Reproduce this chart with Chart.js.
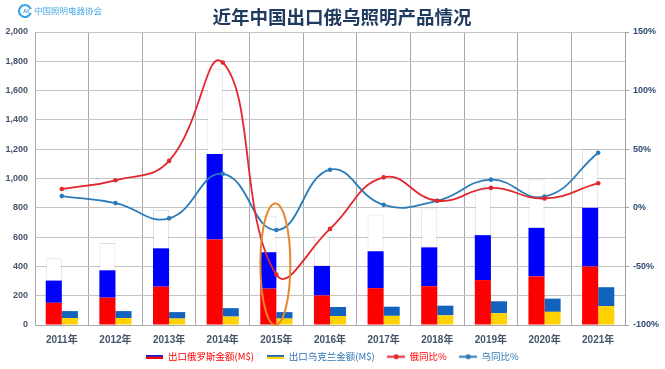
<!DOCTYPE html>
<html><head><meta charset="utf-8">
<script src="https://cdn.jsdelivr.net/npm/chart.js@4.4.0/dist/chart.umd.min.js"></script>
<style>html,body{margin:0;padding:0;background:#fff;overflow:hidden}#wrap{width:665px;height:369px}</style>
</head><body><div id="wrap"><canvas id="c" width="665" height="369"></canvas></div>
<script>
// ---- data ----
const categories = ['2011年','2012年','2013年','2014年','2015年','2016年','2017年','2018年','2019年','2020年','2021年'];
const russiaExport = [455, 560, 785, 1750, 745, 605, 755, 795, 920, 995, 1200];   // 出口俄罗斯金额 (M$)
const ukraineExport = [95, 95, 88, 115, 88, 123, 125, 132, 162, 180, 258];        // 出口乌克兰金额 (M$)
const russiaYoY = [16, 23.5, 40, 124, -57, -18, 26, 6, 17, 8, 21];                 // 俄同比 %
const ukraineYoY = [10, 4, -9, 29, -19, 32.5, 2.5, 6, 24, 9.5, 47];                // 乌同比 %
const leftAxis = {min: 0, max: 2000, step: 200};
const rightAxis = {min: -100, max: 150, step: 50};
const highlight = {category: '2015年', low: 0, high: 830};
const titleText = '近年中国出口俄乌照明产品情况';
const logoText = '中国照明电器协会';
const legendTexts = ['出口俄罗斯金额(M$)', '出口乌克兰金额(M$)', '俄同比%', '乌同比%'];

// ---- colours ----
const RED = '#ff0000', BLUE = '#0000ff', UA_BLUE = '#1262bf', UA_YEL = '#ffd200';
const LINE_RED = '#e3272e', LINE_BLUE = '#2b7bb9';
const FONT = "'Liberation Sans', Arial, 'Noto Sans CJK SC', sans-serif";
const CJK = "'Noto Sans CJK SC', 'Liberation Sans', sans-serif";

// stacked flag pieces built from the values
const third = a => a.map(v => v / 3);
const half = a => a.map(v => v / 2);

function swatch(w, h, draw) {
  const c = document.createElement('canvas'); c.width = w; c.height = h;
  draw(c.getContext('2d')); return c;
}
const swRu = swatch(17, 4, g => { g.fillStyle = '#2020d0'; g.fillRect(0,0,17,2); g.fillStyle = RED; g.fillRect(0,2,17,2); });
const swUa = swatch(17, 4, g => { g.fillStyle = UA_BLUE; g.fillRect(0,0,17,2); g.fillStyle = UA_YEL; g.fillRect(0,2,17,2); });
const swLine = col => swatch(18, 7, g => {
  g.strokeStyle = col; g.lineWidth = 2; g.beginPath(); g.moveTo(0,3.5); g.lineTo(18,3.5); g.stroke();
  g.fillStyle = col; g.beginPath(); g.arc(9,3.5,2.5,0,Math.PI*2); g.fill();
});
const swRuLine = swLine(LINE_RED), swUaLine = swLine(LINE_BLUE);

const ellipsePlugin = {
  id: 'ellipse',
  afterDatasetsDraw(chart) {
    const x = chart.scales.x.getPixelForValue(categories.indexOf(highlight.category));
    const y1 = chart.scales.y.getPixelForValue(highlight.high);
    const y0 = chart.scales.y.getPixelForValue(highlight.low);
    const g = chart.ctx; g.save();
    g.strokeStyle = '#e8862c'; g.lineWidth = 2;
    g.beginPath(); g.ellipse(x - 1, (y0 + y1) / 2, 15, (y0 - y1) / 2, 0, 0, Math.PI * 2); g.stroke();
    g.restore();
  }
};
const headerPlugin = {
  id: 'header',
  afterLayout(chart) {
    // nudge legend row up a little so it sits just below the year labels
    if (chart.legend) { chart.legend.top -= 6; chart.legend.bottom -= 6; }
  },
  afterDraw(chart) {
    const g = chart.ctx; g.save();
    // title
    g.fillStyle = '#1f3a5f'; g.font = "bold 18.5px " + CJK; g.textAlign = 'center'; g.textBaseline = 'middle';
    g.fillText(titleText, 342, 17);
    // logo
    g.strokeStyle = '#3aa3e3'; g.lineWidth = 2.2;
    g.beginPath(); g.arc(25, 11, 6, 0.3, Math.PI * 1.9); g.stroke();
    g.fillStyle = '#3aa3e3'; g.font = "bold 6px " + FONT;
    g.fillText('AI', 26, 11.5);
    g.font = "8.5px " + CJK; g.textAlign = 'left'; g.fillStyle = '#45a8e6';
    g.fillText(logoText, 34, 11);
    g.restore();
  }
};

new Chart(document.getElementById('c'), {
  type: 'bar',
  data: {
    labels: categories,
    datasets: [
      {type: 'line', label: legendTexts[2], data: russiaYoY, yAxisID: 'y1', borderColor: LINE_RED, backgroundColor: LINE_RED,
       borderWidth: 1.8, pointRadius: 2.3, pointBackgroundColor: LINE_RED, pointBorderWidth: 0, tension: 0.45, order: 0},
      {type: 'line', label: legendTexts[3], data: ukraineYoY, yAxisID: 'y1', borderColor: LINE_BLUE, backgroundColor: LINE_BLUE,
       borderWidth: 1.8, pointRadius: 2.3, pointBackgroundColor: LINE_BLUE, pointBorderWidth: 0, tension: 0.45, order: 0},
      {label: 'ru1', data: third(russiaExport), stack: 'ru', backgroundColor: RED, order: 1},
      {label: 'ru2', data: third(russiaExport), stack: 'ru', backgroundColor: BLUE, order: 1},
      {label: 'ru3', data: third(russiaExport), stack: 'ru', backgroundColor: '#ffffff', borderColor: 'rgba(0,0,0,0.13)',
       borderWidth: {left: 1, right: 1, top: 1, bottom: 0}, borderSkipped: false, order: 1},
      {label: 'ua1', data: half(ukraineExport), stack: 'ua', backgroundColor: UA_YEL, order: 1},
      {label: 'ua2', data: half(ukraineExport), stack: 'ua', backgroundColor: UA_BLUE, order: 1}
    ]
  },
  options: {
    responsive: false, animation: false, devicePixelRatio: 1,
    layout: {padding: {left: 0, right: 0, top: 32, bottom: -8.5}},
    datasets: {bar: {categoryPercentage: 0.6, barPercentage: 1.0}},
    plugins: {
      tooltip: {enabled: false},
      title: {display: false},
      legend: {
        position: 'bottom',
        labels: {
          usePointStyle: true, pointStyleWidth: 17, padding: 13,
          font: {size: 9.5, family: CJK},
          generateLabels: () => [
            {text: legendTexts[0], fontColor: RED, pointStyle: swRu, hidden: false, lineWidth: 0, datasetIndex: 2},
            {text: legendTexts[1], fontColor: '#2e75b6', pointStyle: swUa, hidden: false, lineWidth: 0, datasetIndex: 5},
            {text: legendTexts[2], fontColor: RED, pointStyle: swRuLine, hidden: false, lineWidth: 0, datasetIndex: 0},
            {text: legendTexts[3], fontColor: '#2e75b6', pointStyle: swUaLine, hidden: false, lineWidth: 0, datasetIndex: 1}
          ]
        }
      }
    },
    scales: {
      x: {
        stacked: true, offset: true,
        grid: {offset: true, color: '#a9a9a9', drawTicks: false},
        border: {color: '#a9a9a9'},
        ticks: {color: '#44546a', font: {size: 10, weight: 'bold', family: FONT}, padding: 9, maxRotation: 0},
        afterFit: s => { s.height = 20; }
      },
      y: {
        stacked: true, position: 'left', min: leftAxis.min, max: leftAxis.max,
        grid: {color: '#c4c4c4', drawTicks: false},
        border: {display: false},
        ticks: {stepSize: leftAxis.step, color: '#44546a', font: {size: 9, weight: 'bold', family: FONT}, padding: 7,
                callback: v => v.toLocaleString('en-US')},
        afterFit: s => { s.width = 35; }
      },
      y1: {
        position: 'right', min: rightAxis.min, max: rightAxis.max,
        grid: {drawOnChartArea: false, color: '#a0a0a0', tickLength: 4},
        border: {display: true, color: '#a0a0a0'},
        ticks: {stepSize: rightAxis.step, color: '#2f4b73', font: {size: 9, weight: 'bold', family: FONT}, padding: 4,
                callback: v => v + '%'},
        afterFit: s => { s.width = 40; }
      }
    }
  },
  plugins: [ellipsePlugin, headerPlugin]
});
</script></body></html>
